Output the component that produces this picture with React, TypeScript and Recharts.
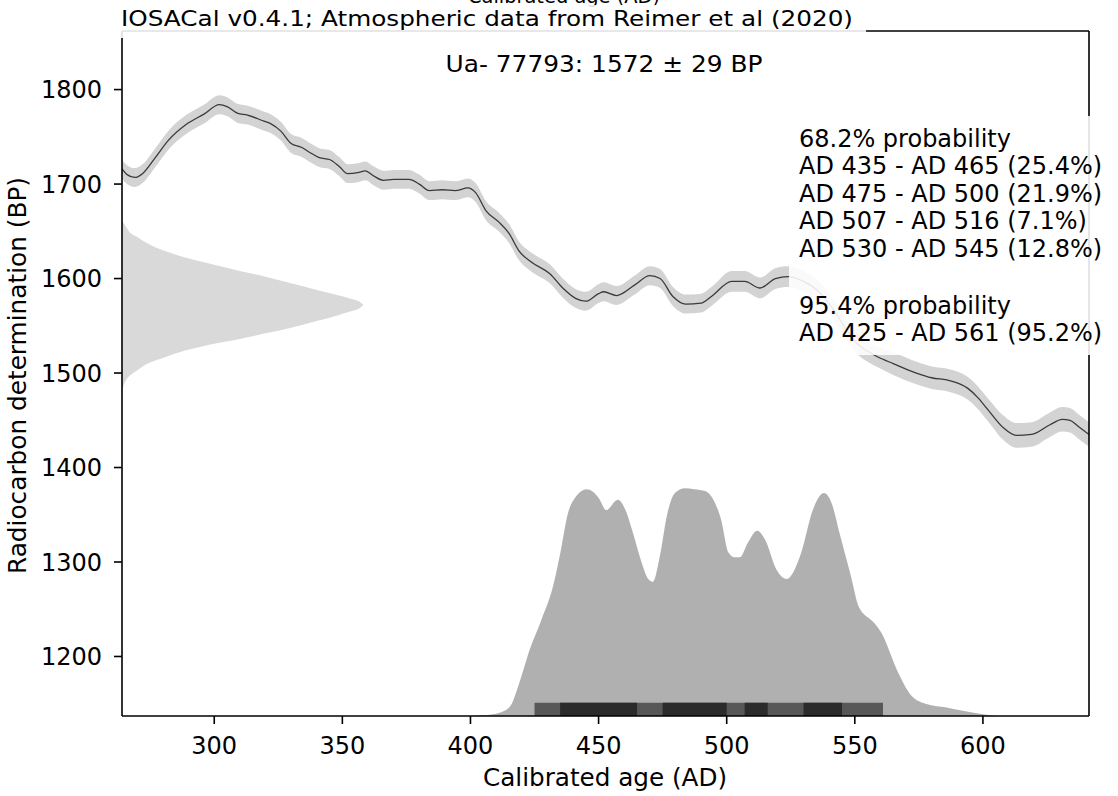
import React from 'react';
import { ComposedChart, Area, Line, XAxis, YAxis } from 'recharts';

// Calibration curve (IntCal20)
const curveYears = [264, 266, 269, 272, 277, 282, 289, 296, 302, 305, 309, 313, 319, 322, 326, 330, 334, 337, 341, 345, 349, 352, 356, 359, 362, 366, 370, 376, 380, 384, 389, 394, 399, 402, 406, 411, 415, 419, 424, 431, 436, 441, 445, 450, 452, 457, 464, 470, 474, 479, 484, 490, 494, 502, 507, 513, 519, 524, 530, 536, 542, 547, 551, 555, 559, 565, 574, 580, 587, 594, 598, 602, 608, 613, 619, 626, 631, 634, 637, 641.4];
const curveBP = [1716, 1710, 1707, 1711, 1728, 1746, 1763, 1774, 1784, 1782, 1775, 1773, 1767, 1764, 1756, 1743, 1739, 1734, 1728, 1726, 1718, 1711, 1712, 1714, 1709, 1704, 1705, 1705, 1700, 1693, 1694, 1693, 1696, 1691, 1672, 1660, 1648, 1629, 1617, 1605, 1590, 1579, 1576, 1584, 1586, 1582, 1593, 1603, 1600, 1581, 1573, 1574, 1581, 1597, 1597, 1590, 1600, 1602, 1597, 1586, 1566, 1545, 1531, 1523, 1517, 1510, 1500, 1495, 1492, 1484, 1474, 1461, 1442, 1434, 1435, 1445, 1451, 1450, 1444, 1435];
const curveErr = [10, 10, 10, 10, 10, 10, 10, 10, 10, 10, 10, 10, 10, 10, 10, 10, 10, 10, 10, 10, 10, 10, 10, 10, 10, 10, 10, 10, 10, 10, 10, 10, 10, 10, 10, 10, 10, 10, 10, 10, 10, 10, 10, 10, 10, 10, 10, 10, 10, 10, 10, 10, 10, 11, 11, 11, 11, 11, 11, 11, 11, 11, 11, 11, 11, 12, 12, 12, 12, 12, 12, 12, 13, 13, 13, 13, 13, 13, 13, 13];

// Radiocarbon determination (1572 ± 29 BP) drawn along the left axis
const gaussYears = [264, 265.5, 267, 270, 274, 280, 289, 298, 310, 320, 330, 340, 348, 351, 354, 356.7, 358.2];
const gaussHigh = [1662, 1655, 1649, 1644, 1637, 1630, 1622, 1616, 1608, 1602, 1595, 1588, 1582.5, 1580.5, 1578, 1575.5, 1572];
const gaussLow = [1482, 1492, 1497, 1503, 1510, 1516, 1524, 1530, 1536, 1542, 1548, 1555, 1561, 1563.5, 1566, 1568.5, 1572];

// Calibrated probability distribution (top edge, in BP units of the plot)
const probYears = [400, 405, 410, 412, 415.7, 418.7, 423.2, 427.7, 432.2, 435.1, 438.1, 441.1, 445.3, 450, 453, 457.5, 460.5, 463.4, 466.4, 469.4, 471.2, 473.9, 476.9, 479.8, 483.6, 487.3, 491.8, 494.8, 497.8, 500.7, 503, 505.2, 508.2, 511.9, 514.9, 519.4, 523.4, 529.1, 533.6, 538, 541, 544, 548.5, 551.5, 557.4, 560.4, 566.4, 572.3, 578.3, 585.8, 593.2, 600.7, 605];
const probBP = [1137, 1138, 1139.5, 1141, 1148, 1169, 1208, 1239, 1274, 1310, 1352, 1369, 1377, 1368, 1355, 1366, 1355, 1331, 1303, 1282, 1279, 1306, 1352, 1373, 1378, 1377, 1375, 1366, 1345, 1310, 1305, 1305, 1320, 1333, 1324, 1292, 1282, 1310, 1355, 1373, 1362, 1331, 1285, 1253, 1236, 1225, 1186, 1158, 1149.5, 1146, 1142, 1138.6, 1137];

// Highest density ranges
const ranges95 = [[425, 561]];
const ranges68 = [[435, 465], [475, 500], [507, 516], [530, 545]];

const xTicks = [300, 350, 400, 450, 500, 550, 600];
const yTicks = [1200, 1300, 1400, 1500, 1600, 1700, 1800];
const X_DOMAIN = [264, 641.4];
const Y_DOMAIN = [1137, 1862];
const BAR_TOP = 1151;

const titleText = 'IOSACal v0.4.1; Atmospheric data from Reimer et al (2020)';
const sampleText = 'Ua- 77793: 1572 ± 29 BP';
const legend68 = ['68.2% probability', 'AD 435 - AD 465 (25.4%)', 'AD 475 - AD 500 (21.9%)', 'AD 507 - AD 516 (7.1%)', 'AD 530 - AD 545 (12.8%)'];
const legend95 = ['95.4% probability', 'AD 425 - AD 561 (95.2%)'];
const xLabel = 'Calibrated age (AD)';
const yLabel = 'Radiocarbon determination (BP)';

const curveData = curveYears.map((x, i) => ({ x, bp: curveBP[i], band: [curveBP[i] - curveErr[i], curveBP[i] + curveErr[i]] }));
const gaussData = gaussYears.map((x, i) => ({ x, g: [gaussLow[i], gaussHigh[i]] }));
const probData = probYears.map((x, i) => ({ x, p: [Y_DOMAIN[0], probBP[i]] }));
const barData = (r: number[]) => [
  { x: r[0], v: [Y_DOMAIN[0], BAR_TOP] },
  { x: r[1], v: [Y_DOMAIN[0], BAR_TOP] },
];

const FONT = '"DejaVu Sans", sans-serif';
const W = 1118;
const H = 796;

export default function App() {
  const tickStyle = { fill: '#000', fontSize: 24, fontFamily: FONT };
  return (
    <div style={{ position: 'absolute', left: 0, top: 0, width: W, height: H, background: '#fff' }}>
      <div style={{ position: 'absolute', left: 0, top: 0 }}>
        <ComposedChart width={W} height={H} margin={{ top: 31, right: 29, bottom: 0, left: 0 }}>
          <XAxis
            dataKey="x"
            type="number"
            domain={X_DOMAIN}
            ticks={xTicks}
            allowDataOverflow
            height={80}
            tickSize={8}
            tickMargin={13}
            interval={0}
            axisLine={{ stroke: '#000', strokeWidth: 1.6 }}
            tickLine={{ stroke: '#000', strokeWidth: 1.6 }}
            tick={tickStyle}
          />
          <YAxis
            type="number"
            domain={Y_DOMAIN}
            ticks={yTicks}
            allowDataOverflow
            width={122}
            tickSize={8}
            tickMargin={12}
            interval={0}
            axisLine={{ stroke: '#000', strokeWidth: 1.6 }}
            tickLine={{ stroke: '#000', strokeWidth: 1.6 }}
            tick={tickStyle}
          />
          <Area data={gaussData} dataKey="g" type="monotone" fill="#d9d9d9" fillOpacity={1} stroke="none" isAnimationActive={false} />
          <Area data={curveData} dataKey="band" type="monotone" fill="#d3d3d3" fillOpacity={1} stroke="none" isAnimationActive={false} />
          <Line data={curveData} dataKey="bp" type="monotone" stroke="#3a3a3a" strokeWidth={1.3} dot={false} isAnimationActive={false} />
          <Area data={probData} dataKey="p" type="monotone" fill="#b0b0b0" fillOpacity={1} stroke="none" isAnimationActive={false} />
          {ranges95.map((r, i) => (
            <Area key={'r95' + i} data={barData(r)} dataKey="v" type="linear" fill="#575757" fillOpacity={1} stroke="none" isAnimationActive={false} />
          ))}
          {ranges68.map((r, i) => (
            <Area key={'r68' + i} data={barData(r)} dataKey="v" type="linear" fill="#2b2b2b" fillOpacity={1} stroke="none" isAnimationActive={false} />
          ))}
        </ComposedChart>
      </div>
      <svg width={W} height={H} style={{ position: 'absolute', left: 0, top: 0, pointerEvents: 'none' }}>
        <line x1={122} y1={31} x2={1089} y2={31} stroke="#000" strokeWidth={1.6} />
        <line x1={1089} y1={31} x2={1089} y2={716} stroke="#000" strokeWidth={1.6} />
        <text x={564} y={2.5} textAnchor="middle" fontFamily={FONT} fontSize={19.5} textLength={192} lengthAdjust="spacingAndGlyphs">{xLabel}</text>
        <rect x={110} y={5} width={756} height={33} fill="#fff" fillOpacity={0.88} />
        <text x={121} y={26} fontFamily={FONT} fontSize={22} textLength={732} lengthAdjust="spacingAndGlyphs">{titleText}</text>
        <text x={604} y={71.5} textAnchor="middle" fontFamily={FONT} fontSize={23} textLength={317} lengthAdjust="spacingAndGlyphs">{sampleText}</text>
        <rect x={789} y={116} width={329} height={239} fill="#fff" fillOpacity={0.88} />
        {legend68.map((t, i) => (
          <text key={'l68' + i} x={799} y={146.5 + i * 27.5} fontFamily={FONT} fontSize={24}>{t}</text>
        ))}
        {legend95.map((t, i) => (
          <text key={'l95' + i} x={799} y={313.5 + i * 27.5} fontFamily={FONT} fontSize={24}>{t}</text>
        ))}
        <text x={605} y={786} textAnchor="middle" fontFamily={FONT} fontSize={24} textLength={244} lengthAdjust="spacingAndGlyphs">{xLabel}</text>
        <text x={0} y={0} transform="translate(26,375.5) rotate(-90)" textAnchor="middle" fontFamily={FONT} fontSize={24} textLength={397} lengthAdjust="spacingAndGlyphs">{yLabel}</text>
      </svg>
    </div>
  );
}
